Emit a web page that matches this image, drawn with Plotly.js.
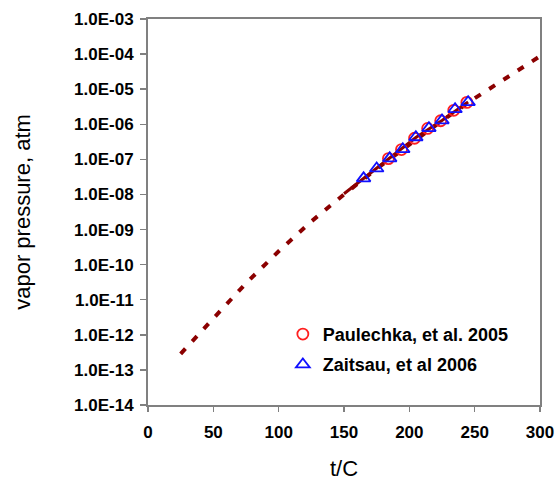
<!DOCTYPE html>
<html>
<head>
<meta charset="utf-8">
<script src="https://cdn.plot.ly/plotly-3.0.1.min.js"></script>
<style>html,body{margin:0;padding:0;background:#fff;}#chart{width:557px;height:481px;}</style>
</head>
<body>
<div id="chart"></div>
<script>
// Dotted correlation curve
var curveT = [25, 50, 75, 100, 125, 150, 175, 200, 225, 250, 275, 300];
var curveP = [2.88e-13, 3.02e-12, 2.95e-11, 2.40e-10, 1.70e-9, 1.0e-8, 5.37e-8, 2.63e-7, 1.26e-6, 5.50e-6, 2.24e-5, 8.71e-5];
// Solid fit line over the measured range
var fitT = [150, 165, 185, 205, 225, 245];
var fitP = [1.05e-8, 2.85e-8, 1.07e-7, 4.2e-7, 1.28e-6, 4.3e-6];
// Paulechka, et al. 2005
var paulT = [184, 194, 204, 214, 224, 234, 244];
var paulP = [1.05e-7, 1.9e-7, 4.0e-7, 7.6e-7, 1.26e-6, 2.5e-6, 4.2e-6];
// Zaitsau, et al 2006
var zaitT = [165, 175, 185, 195, 205, 215, 225, 235, 245];
var zaitP = [2.88e-8, 5.5e-8, 1.07e-7, 1.95e-7, 4.27e-7, 7.76e-7, 1.29e-6, 2.69e-6, 4.27e-6];

var yTickVals = [1e-14, 1e-13, 1e-12, 1e-11, 1e-10, 1e-9, 1e-8, 1e-7, 1e-6, 1e-5, 1e-4, 1e-3];
var yTickText = ["1.0E-14", "1.0E-13", "1.0E-12", "1.0E-11", "1.0E-10", "1.0E-09", "1.0E-08", "1.0E-07", "1.0E-06", "1.0E-05", "1.0E-04", "1.0E-03"];
var xTickVals = [0, 50, 100, 150, 200, 250, 300];

var lineColor = "#8B0000";
var traces = [
  {x: curveT, y: curveP, mode: "lines", line: {color: lineColor, width: 4, dash: "7px,10px"}, showlegend: false, hoverinfo: "skip"},
  {x: fitT, y: fitP, mode: "lines", line: {color: lineColor, width: 3}, showlegend: false, hoverinfo: "skip"},
  {x: paulT, y: paulP, mode: "markers", name: "Paulechka, et al. 2005", legendgroup: "a",
   marker: {symbol: "circle-open", size: 11, color: "#FF2020", line: {width: 1.8, color: "#FF2020"}}},
  {x: zaitT, y: zaitP, mode: "markers", name: "Zaitsau, et al 2006", legendgroup: "b",
   marker: {symbol: "triangle-up-open", size: 12, color: "#1010FF", line: {width: 1.8, color: "#1010FF"}}}
];

var fam = "Arial, 'Liberation Sans', sans-serif";
var axisFont = {family: fam, size: 17, color: "#000", weight: "bold"};
var layout = {
  width: 557, height: 481,
  margin: {l: 148, r: 17, t: 19, b: 76},
  paper_bgcolor: "#fff", plot_bgcolor: "#fff",
  font: {family: fam, color: "#000"},
  xaxis: {
    range: [0, 300], tickvals: xTickVals, ticks: "outside", ticklen: 5, tickwidth: 1.5, tickcolor: "#808080",
    showline: true, linecolor: "#808080", linewidth: 2, mirror: true, showgrid: false, zeroline: false,
    tickfont: axisFont, ticklabelstandoff: 6,
    title: {text: "t/C", font: {family: fam, size: 22, color: "#000"}, standoff: 23}
  },
  yaxis: {
    type: "log", range: [-14, -3], tickvals: yTickVals, ticktext: yTickText,
    ticks: "outside", ticklen: 6, tickwidth: 1.5, tickcolor: "#808080",
    showline: true, linecolor: "#808080", linewidth: 2, mirror: true, showgrid: false, zeroline: false,
    tickfont: axisFont, ticklabelstandoff: 3,
    title: {text: "vapor pressure, atm", font: {family: fam, size: 22, color: "#000"}, standoff: 37}
  },
  legend: {x: 0.344, y: 0.231, xanchor: "left", yanchor: "top", bgcolor: "rgba(0,0,0,0)", borderwidth: 0,
    traceorder: "grouped", tracegroupgap: 4,
    font: {family: fam, size: 18, color: "#000", weight: "bold"}, itemwidth: 30},
  showlegend: true
};
Plotly.newPlot("chart", traces, layout, {displayModeBar: false, staticPlot: true});
</script>
</body>
</html>
